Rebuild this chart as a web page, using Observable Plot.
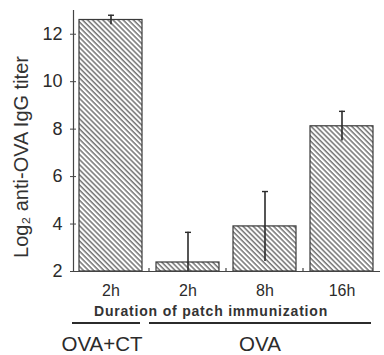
<!DOCTYPE html>
<html>
<head>
<meta charset="utf-8">
<script src="https://cdn.jsdelivr.net/npm/d3@7"></script>
<script src="https://cdn.jsdelivr.net/npm/@observablehq/plot@0.6"></script>
<style>
  html, body { margin: 0; padding: 0; background: #fff; }
  #chart svg { display: block; overflow: visible; }
</style>
</head>
<body>
<div id="chart"></div>
<script>
// ---- data ----
const categories = ["OVA+CT|2h", "OVA|2h", "OVA|8h", "OVA|16h"];
const groups = ["OVA+CT", "OVA", "OVA", "OVA"];
const durations = ["2h", "2h", "8h", "16h"];
const means = [12.6, 2.38, 3.9, 8.12];
const errUpper = [12.8, 3.65, 5.37, 8.75];
const errLower = [12.4, 2.0, 2.42, 7.5];
const yTicks = [2, 4, 6, 8, 10, 12];
const yLabel = "Log₂ anti-OVA IgG titer";
const xTitle = "Duration of patch immunization";
const groupNames = ["OVA+CT", "OVA"];

const data = categories.map((c, i) => ({
  cat: c, group: groups[i], dur: durations[i],
  mean: means[i], hi: errUpper[i], lo: errLower[i]
}));
const durOf = Object.fromEntries(categories.map((c, i) => [c, durations[i]]));

const ink = "#2b2b2b";
const font = "'Liberation Sans', Arial, sans-serif";
const cap = {draw(ctx, size) { const r = Math.sqrt(size / Math.PI); ctx.moveTo(-r, 0); ctx.lineTo(r, 0); }};

const plot = Plot.plot({
  width: 384, height: 355,
  marginLeft: 73, marginRight: 4, marginTop: 10, marginBottom: 84,
  style: {fontFamily: font, background: "#fff", color: ink},
  x: {domain: categories, paddingInner: 0.18, paddingOuter: 0.08, label: null, axis: null},
  y: {domain: [2, 13], label: null, axis: null},
  marks: [
    Plot.barY(data, {x: "cat", y1: 2, y2: "mean", fill: "url(#hatch)", stroke: "#3a3a3a", strokeWidth: 1.2}),
    Plot.ruleX(data, {x: "cat", y1: "lo", y2: "hi", stroke: ink, strokeWidth: 1.6}),
    Plot.dot(data, {x: "cat", y: "hi", symbol: cap, r: 3, stroke: ink, strokeWidth: 1.4}),
    Plot.ruleY([2], {stroke: "#444", strokeWidth: 1.2}),
    Plot.frame({anchor: "left", stroke: "#444", strokeWidth: 1.2}),
    Plot.axisY({ticks: yTicks, tickSize: 6, dx: 3, tickFormat: () => "", stroke: "#444"}),
    Plot.axisY({ticks: yTicks, tickSize: 0, tickPadding: 11, fontSize: 18, fill: ink}),
    Plot.axisX({tickSize: 0, tickPadding: 13, fontSize: 16, fill: ink, tickFormat: d => durOf[d]}),
    Plot.text([yLabel], {frameAnchor: "left", textAnchor: "middle", rotate: -90, dx: -52, dy: 16, fontSize: 20, fill: "#333"}),
    Plot.text([xTitle], {frameAnchor: "bottom", textAnchor: "middle", lineAnchor: "middle", dy: 40, dx: -16, fontSize: 14, fontWeight: "bold", fill: "#333"})
  ]
});

// hatch pattern
const svg = d3.select(plot);
const defs = svg.insert("defs", ":first-child");
const pat = defs.append("pattern")
  .attr("id", "hatch").attr("patternUnits", "userSpaceOnUse")
  .attr("width", 3.6).attr("height", 10)
  .attr("patternTransform", "rotate(-45)");
pat.append("rect").attr("width", 3.6).attr("height", 10).attr("fill", "#fff");
pat.append("line").attr("x1", 1).attr("x2", 1).attr("y1", 0).attr("y2", 10)
  .attr("stroke", "#505050").attr("stroke-width", 1.2);

// x-title letter spacing
svg.selectAll("text").filter(function() { return this.textContent === xTitle; })
  .attr("letter-spacing", 0.8);

// group brackets and labels, positioned from the plot's x scale
const xs = plot.scale("x");
const bw = xs.bandwidth;
const baseY = 355 - 84;
const g = svg.append("g");
groupNames.forEach(name => {
  const cats = categories.filter((c, i) => groups[i] === name);
  const x0 = xs.apply(cats[0]) - 7;
  const x1 = xs.apply(cats[cats.length - 1]) + bw - 2;
  g.append("line").attr("x1", x0).attr("x2", x1).attr("y1", baseY + 52).attr("y2", baseY + 52)
    .attr("stroke", ink).attr("stroke-width", 1.8);
  g.append("text").attr("x", name === "OVA" ? (x0 + x1) / 2 : (x0 + x1) / 2 - 4).attr("y", baseY + 80)
    .attr("text-anchor", "middle").attr("font-size", 20.5).attr("fill", ink)
    .attr("font-family", font).text(name);
});
// small division ticks between bars at baseline
for (let i = 0; i < categories.length - 1; i++) {
  const xm = (xs.apply(categories[i]) + bw + xs.apply(categories[i + 1])) / 2;
  g.append("line").attr("x1", xm).attr("x2", xm).attr("y1", baseY).attr("y2", baseY - 3)
    .attr("stroke", "#444").attr("stroke-width", 1.2);
}

document.getElementById("chart").appendChild(plot);
</script>
</body>
</html>
